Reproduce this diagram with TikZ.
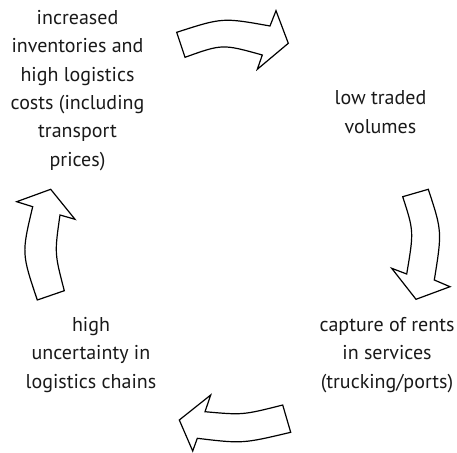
\documentclass[tikz,border=0pt]{standalone}
\usepackage{fontspec}
\setmainfont{PT Sans}
\begin{document}
\begin{tikzpicture}[x=1pt,y=-1pt,
  label text/.style={align=center, anchor=base, inner sep=0pt,
    font=\fontsize{20}{28.3}\selectfont, text=black!90},
  block arrow/.style={draw=black, line width=1.2pt, fill=white, line join=miter}]
\useasboundingbox (0,0) rectangle (457,452);

% stages of the cycle (anchored at the baseline of the last line)
\node[label text] (inv) at (77.5,166) {increased\\inventories and\\high logistics\\costs (including\\transport\\prices)};
\node[label text] (vol) at (380.5,133) {low traded\\volumes};
\node[label text] (rent) at (387,388) {capture of rents\\in services\\(trucking/ports)};
\node[label text] (unc) at (91,388) {high\\uncertainty in\\logistics chains};

% curved block arrows, clockwise
\draw[block arrow] (176.7,32.3) .. controls (222.6,17.5) .. (270,26)
  -- (276,10.7) -- (288.3,43.3) -- (257.3,69.3) -- (262.3,55)
  .. controls (222.4,43.9) .. (185,57.3) -- cycle;
\draw[block arrow] (402.7,196.7) -- (428.3,189.3)
  .. controls (442.1,231.4) .. (434.3,280)
  -- (450,286.7) -- (416,299.3) -- (391.7,268.3) -- (406.7,274)
  .. controls (413.9,231.3) .. cycle;
\draw[block arrow] (282.7,405) -- (290.7,432.3)
  .. controls (242.6,443.7) .. (197.3,438.3)
  -- (192.7,451) -- (179.3,420) -- (210.7,395) -- (205,411.7)
  .. controls (242.8,415.1) .. cycle;
\draw[block arrow] (37.3,300) -- (64.3,290.7)
  .. controls (54.5,253.2) .. (60,215)
  -- (75,219.3) -- (50.7,189.3) -- (16.7,201.7) -- (32.7,206.7)
  .. controls (21.6,253.3) .. cycle;
\end{tikzpicture}
\end{document}
